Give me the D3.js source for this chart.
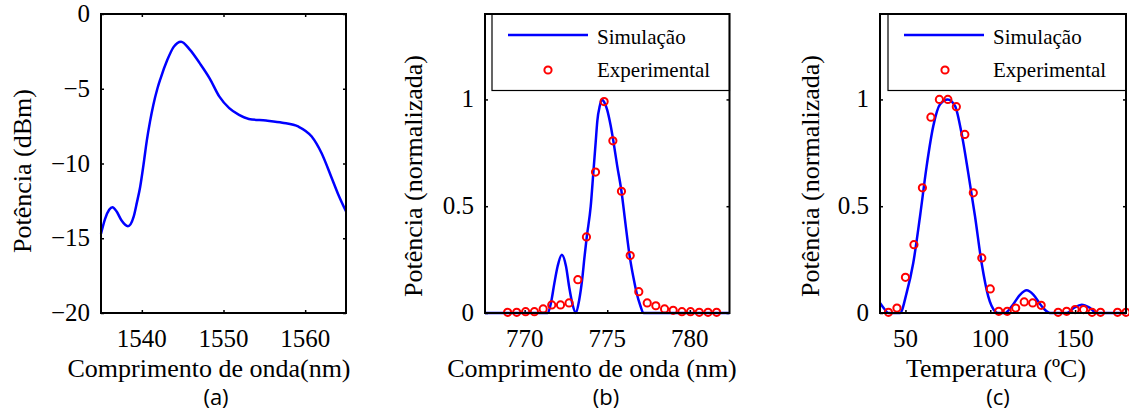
<!DOCTYPE html>
<html>
<head>
<meta charset="utf-8">
<script src="https://cdn.jsdelivr.net/npm/d3@7"></script>
<style>
  html, body { margin: 0; padding: 0; background: #fff; }
  svg { display: block; }
</style>
</head>
<body>
<div id="chart"></div>
<script>
/*
 * Three MATLAB-style panels: (a) source spectrum, (b) filter response vs
 * wavelength, (c) response vs temperature.
 */

// (a) spectrum, dBm
const aWavelength = [1535.0, 1535.5, 1536.0, 1536.4, 1536.9, 1537.5, 1538.3, 1539.0, 1539.4, 1539.8,
  1540.2, 1540.6, 1541.0, 1541.4, 1541.9, 1542.3, 1543.1, 1543.9, 1544.8, 1545.9, 1547.1, 1548.3,
  1549.5, 1550.7, 1551.9, 1553.1, 1555.2, 1557.2, 1559.2, 1560.8, 1562.0, 1563.2, 1564.0, 1565.0];
const aPower = [-14.7, -13.7, -13.1, -12.93, -13.2, -13.8, -14.2, -13.56, -12.6, -11.55,
  -10.1, -8.5, -7.2, -6.1, -5.0, -4.3, -3.1, -2.2, -1.85, -2.4, -3.3, -4.3,
  -5.53, -6.3, -6.75, -7.02, -7.13, -7.27, -7.54, -8.2, -9.3, -10.9, -12.0, -13.2];

// (b) simulation vs wavelength
const bSimWl = [767.6, 771.4, 771.6, 771.8, 772.0, 772.25, 772.5, 772.7, 772.9, 773.1,
  773.3, 773.48, 773.62, 773.76, 774.0, 774.16, 774.3, 774.4, 774.55, 774.67, 774.8,
  775.0, 775.2, 775.38, 775.6, 775.86, 776.1, 776.35, 776.6, 776.79, 777.0, 777.19, 782.4];
const bSimVal = [0, 0, 0.05, 0.14, 0.22, 0.273, 0.22, 0.12, 0.04, 0,
  0.06, 0.156, 0.26, 0.356, 0.5, 0.66, 0.8, 0.9, 0.97, 1.0, 0.99,
  0.95, 0.88, 0.8, 0.69, 0.57, 0.42, 0.27, 0.16, 0.09, 0.035, 0, 0];

// (b) experimental points
const bExpWl = [768.97, 769.52, 770.06, 770.59, 771.12, 771.64, 772.17, 772.69, 773.22, 773.74,
  774.29, 774.81, 775.34, 775.86, 776.39, 776.91, 777.42, 777.94, 778.47, 778.99,
  779.52, 780.04, 780.57, 781.10, 781.62];
const bExpVal = [0.003, 0.003, 0.006, 0.006, 0.019, 0.038, 0.038, 0.047, 0.156, 0.356,
  0.66, 0.99, 0.806, 0.57, 0.269, 0.10, 0.047, 0.034, 0.019, 0.0125,
  0.006, 0.006, 0.003, 0.003, 0.003];

// (c) simulation vs temperature
const cSimT = [35, 37.5, 39.9, 46.8, 50.7, 54.6, 58.6, 62.5, 66.4, 70.4, 74.9, 79.2, 83.1,
  87.0, 91.0, 94.9, 98.8, 102.8, 104.7, 108.7, 113, 117.5, 121.4, 125.5, 130, 135.2,
  145, 149.5, 153.9, 158.5, 162.7, 180];
const cSimVal = [0.047, 0.02, 0.0, 0.0, 0.094, 0.234, 0.453, 0.688, 0.875, 0.977, 1.0, 0.97, 0.84,
  0.656, 0.453, 0.234, 0.078, 0.008, 0, 0, 0.035, 0.085, 0.106, 0.085, 0.035, 0,
  0, 0.025, 0.039, 0.025, 0, 0];

// (c) experimental points
const cExpT = [40, 45, 50, 55, 60, 65, 70, 75, 80, 85, 90, 95, 100, 105, 110, 115, 120, 125, 130,
  140, 145, 150, 155, 160, 165, 175, 180];
const cExpVal = [0.003, 0.023, 0.167, 0.32, 0.586, 0.917, 1.0, 1.0, 0.966, 0.836, 0.5625, 0.258,
  0.1125, 0.008, 0.008, 0.023, 0.052, 0.047, 0.036, 0.003, 0.008, 0.016, 0.016, 0.003, 0.003,
  0.003, 0.003];

const aXTicks = [1540, 1550, 1560];
const aYTicks = [0, -5, -10, -15, -20];
const bXTicks = [770, 775, 780];
const cXTicks = [50, 100, 150];
const normYTicks = [0, 0.5, 1];

const BLUE = '#0000ff';
const RED = '#ff0000';
const SERIF = '"Liberation Serif", "Times New Roman", Times, serif';
const SANS = '"Open Sans", "Noto Sans", sans-serif';
const K = 2; // text is set at half size and scaled up

const svg = d3.select('#chart').append('svg')
  .attr('width', 1129)
  .attr('height', 414);

svg.append('rect').attr('width', 1129).attr('height', 414).attr('fill', '#fff');

const fmtTick = d => d3.format('')(d).replace('-', '\u2212');

/* ------------------------------------------------------------------ */
/*  Panels                                                             */
/* ------------------------------------------------------------------ */

// (a)
{
  const x = d3.scaleLinear().domain([1535, 1565]).range([101, 346]);
  const y = d3.scaleLinear().domain([-20, 0]).range([313, 14]);
  const g = svg.append('g');
  drawAxes(g, x, y, aXTicks, aYTicks);
  g.append('path')
    .datum(aWavelength.map((w, i) => [w, aPower[i]]))
    .attr('fill', 'none').attr('stroke', BLUE).attr('stroke-width', 2.5)
    .attr('d', d3.line().x(d => x(d[0])).y(d => y(d[1])).curve(d3.curveMonotoneX));
  drawFrame(g, x, y);
  labels(g, 'Comprimento de onda(nm)', 209, 'Potência (dBm)', 31, 171, '(a)', 216);
}

// (b)
{
  const x = d3.scaleLinear().domain([767.6, 782.4]).range([485, 729.5]);
  const y = d3.scaleLinear().domain([0, 1.4]).range([313, 14]);
  const g = svg.append('g');
  drawAxes(g, x, y, bXTicks, normYTicks);
  drawSeries(g, x, y, bSimWl, bSimVal, bExpWl, bExpVal);
  drawLegend(g, 492, 729.5, 508, 548);
  drawFrame(g, x, y);
  labels(g, 'Comprimento de onda (nm)', 592, 'Potência (normalizada)', 422, 176, '(b)', 606);
}

// (c)
{
  const x = d3.scaleLinear().domain([35, 180]).range([880, 1126]);
  const y = d3.scaleLinear().domain([0, 1.4]).range([313, 14]);
  const g = svg.append('g');
  drawAxes(g, x, y, cXTicks, normYTicks);
  drawSeries(g, x, y, cSimT, cSimVal, cExpT, cExpVal);
  drawLegend(g, 888, 1126, 904, 945);
  drawFrame(g, x, y);
  labels(g, 'Temperatura (ºC)', 996, 'Potência (normalizada)', 819, 176, '(c)', 998);
}

/* ------------------------------------------------------------------ */
/*  Helpers                                                            */
/* ------------------------------------------------------------------ */

/** Text placed by a transform, set at size/K and scaled by K */
function label(g, str, x, y, size, opts = {}) {
  return g.append('text')
    .attr('transform', `translate(${x},${y})${opts.rotate ? ' rotate(-90)' : ''} scale(${K})`)
    .attr('font-family', opts.family || SERIF)
    .attr('font-size', size / K)
    .attr('text-anchor', opts.anchor || 'middle')
    .attr('fill', '#000')
    .text(str);
}

/** Inward ticks on all four sides, labels on bottom and left only */
function drawAxes(g, x, y, xTicks, yTicks) {
  const [x0, x1] = x.range();
  const [y0, y1] = y.range();

  g.append('g').attr('transform', `translate(0,${y0})`)
    .call(d3.axisBottom(x).tickValues(xTicks).tickSize(-3).tickFormat(''));
  g.append('g').attr('transform', `translate(0,${y1})`)
    .call(d3.axisTop(x).tickValues(xTicks).tickSize(-3).tickFormat(''));
  g.append('g').attr('transform', `translate(${x0},0)`)
    .call(d3.axisLeft(y).tickValues(yTicks).tickSize(-3).tickFormat(''));
  g.append('g').attr('transform', `translate(${x1},0)`)
    .call(d3.axisRight(y).tickValues(yTicks).tickSize(-3).tickFormat(''));

  g.selectAll('.domain').remove();
  g.selectAll('.tick line').attr('stroke', '#000').attr('stroke-width', 1.5);

  // tick labels, positioned through the same scales
  xTicks.forEach(t => label(g, fmtTick(t), x(t), y0 + 34, 25));
  yTicks.forEach(t => label(g, fmtTick(t), x0 - 11, y(t) + 8, 25, { anchor: 'end' }));
}

/** Black box around the plot area */
function drawFrame(g, x, y) {
  const [x0, x1] = x.range();
  const [y0, y1] = y.range();
  g.append('rect')
    .attr('x', x0).attr('y', y1)
    .attr('width', x1 - x0).attr('height', y0 - y1)
    .attr('fill', 'none').attr('stroke', '#000').attr('stroke-width', 2);
}

/** Axis titles and the (a)/(b)/(c) caption */
function labels(g, xTitle, xCenter, yTitle, yBase, yCenter, caption, capX) {
  label(g, xTitle, xCenter, 377, 26);
  label(g, yTitle, yBase, yCenter, 26, { rotate: true });
  label(g, caption, capX, 405, 22, { family: SANS });
}

/** Blue simulation line + red open-circle measurements */
function drawSeries(g, x, y, simX, simY, expX, expY) {
  g.append('path')
    .datum(simX.map((v, i) => [v, simY[i]]))
    .attr('fill', 'none').attr('stroke', BLUE).attr('stroke-width', 2.5)
    .attr('d', d3.line().x(d => x(d[0])).y(d => y(d[1])).curve(d3.curveMonotoneX));

  g.selectAll('circle.exp')
    .data(expX.map((v, i) => [v, expY[i]]))
    .enter().append('circle')
    .attr('class', 'exp')
    .attr('cx', d => x(d[0])).attr('cy', d => y(d[1]))
    .attr('r', 3.6)
    .attr('fill', 'none').attr('stroke', RED).attr('stroke-width', 2);
}

/** MATLAB-like legend box in the top right corner */
function drawLegend(g, left, right, lineX, markX) {
  const lg = g.append('g');
  lg.append('rect')
    .attr('x', left).attr('y', 14)
    .attr('width', right - left).attr('height', 76.5)
    .attr('fill', '#fff').attr('stroke', '#000').attr('stroke-width', 1.2);
  lg.append('line')
    .attr('x1', lineX).attr('x2', lineX + 80).attr('y1', 35).attr('y2', 35)
    .attr('stroke', BLUE).attr('stroke-width', 2.5);
  lg.append('circle')
    .attr('cx', markX).attr('cy', 70).attr('r', 3.6)
    .attr('fill', 'none').attr('stroke', RED).attr('stroke-width', 2);
  label(lg, 'Simulação', lineX + 89, 44, 21, { anchor: 'start' });
  label(lg, 'Experimental', lineX + 89, 77, 21, { anchor: 'start' });
}
</script>
</body>
</html>
